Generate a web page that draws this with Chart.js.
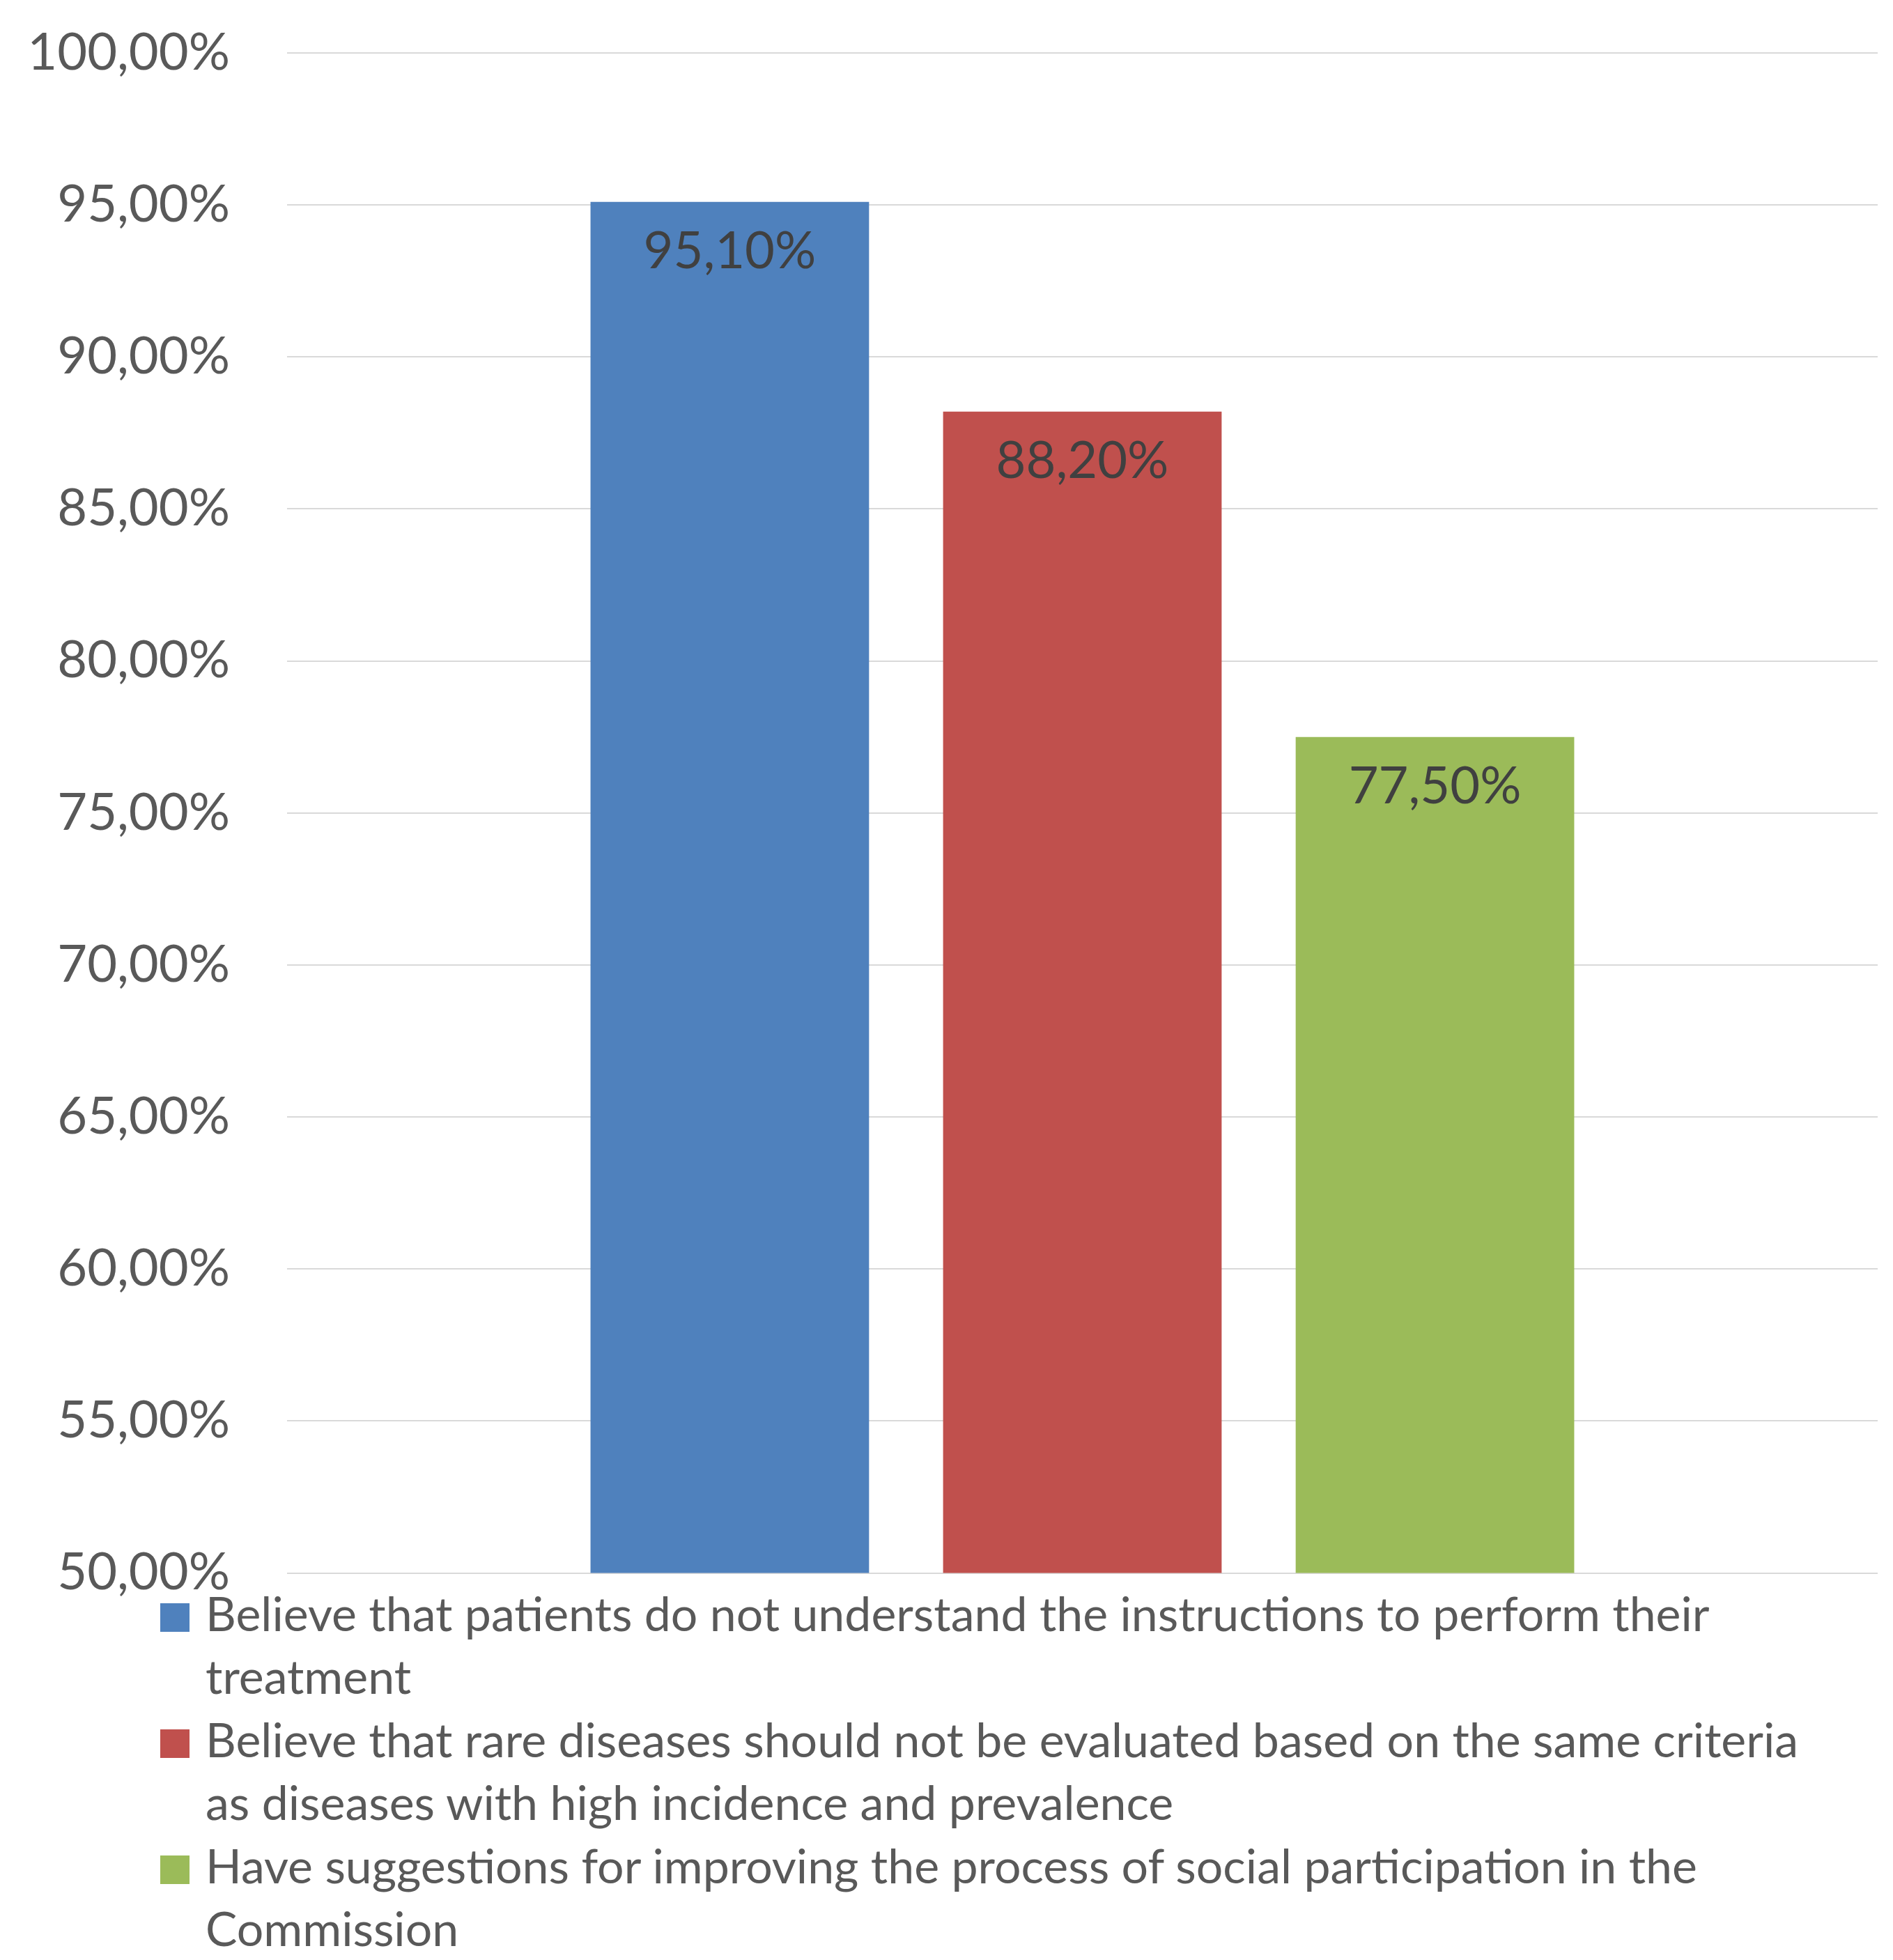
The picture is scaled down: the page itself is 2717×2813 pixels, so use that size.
<!DOCTYPE html>
<html>
<head>
<meta charset="utf-8">
<script src="https://cdn.jsdelivr.net/npm/chart.js@4.4.1/dist/chart.umd.min.js"></script>
<style>
  html, body { margin: 0; padding: 0; background: #ffffff; }
  #wrap { position: relative; width: 2717px; height: 2813px; overflow: hidden; }
  #c { position: absolute; left: 0; top: 0; display: block; }
  #legend { position: absolute; left: 230px; top: 2270px; width: 2395px;
            font-family: Lato, "Open Sans", sans-serif; font-size: 68px; line-height: 90.4px; color: #595959; }
  .item { position: relative; padding-left: 65px; }
  .sw { position: absolute; left: 0; top: 31px; width: 42px; height: 41px; }
</style>
</head>
<body>
<div id="wrap">
  <canvas id="c" width="2717" height="2302"></canvas>
  <div id="legend"></div>
</div>
<script>
const categories = [""];
const seriesLabels = [
  "Believe that patients do not understand the instructions to perform their treatment",
  "Believe that rare diseases should not be evaluated based on the same criteria as diseases with high incidence and prevalence",
  "Have suggestions for improving the process of social participation in the Commission"
];
const seriesValues = [95.1, 88.2, 77.5];
const seriesColors = ["#4F81BD", "#C0504D", "#9BBB59"];
const yMin = 50, yMax = 100, yStep = 5;

const fmt = v => v.toFixed(2).replace('.', ',') + '%';

const valueLabels = {
  id: 'valueLabels',
  afterDatasetsDraw(chart) {
    const ctx = chart.ctx;
    ctx.save();
    ctx.font = '74px Lato, "Open Sans", sans-serif';
    ctx.fillStyle = '#404040';
    ctx.textAlign = 'center';
    ctx.textBaseline = 'alphabetic';
    chart.data.datasets.forEach((ds, i) => {
      const meta = chart.getDatasetMeta(i);
      meta.data.forEach((bar, j) => {
        ctx.fillText(fmt(ds.data[j]), bar.x, bar.y + 95);
      });
    });
    ctx.restore();
  }
};

const chart = new Chart(document.getElementById('c'), {
  type: 'bar',
  data: {
    labels: categories,
    datasets: seriesLabels.map((lab, i) => ({
      label: lab,
      data: [seriesValues[i]],
      backgroundColor: seriesColors[i],
      borderWidth: 0,
      categoryPercentage: 0.665,
      barPercentage: 0.79
    }))
  },
  options: {
    responsive: false,
    devicePixelRatio: 1,
    animation: false,
    layout: { padding: { left: 0, right: 22, top: 76, bottom: 44 } },
    plugins: { legend: { display: false }, tooltip: { enabled: false } },
    scales: {
      x: {
        display: false,
        grid: { display: false },
        border: { display: false },
        ticks: { display: false }
      },
      y: {
        min: yMin, max: yMax,
        grid: { color: '#D9D9D9', lineWidth: 2, drawTicks: true, tickLength: 82, tickColor: 'rgba(0,0,0,0)' },
        border: { display: false },
        ticks: {
          stepSize: yStep,
          padding: 0,
          color: '#595959',
          font: { family: 'Lato, "Open Sans", sans-serif', size: 74 },
          callback: v => fmt(v)
        },
        afterFit(scale) { scale.width = 412; }
      }
    }
  },
  plugins: [valueLabels]
});

const legend = document.getElementById('legend');
seriesLabels.forEach((lab, i) => {
  const it = document.createElement('div');
  it.className = 'item';
  const sw = document.createElement('span');
  sw.className = 'sw';
  sw.style.background = seriesColors[i];
  it.appendChild(sw);
  it.appendChild(document.createTextNode(lab));
  legend.appendChild(it);
});
</script>
</body>
</html>
